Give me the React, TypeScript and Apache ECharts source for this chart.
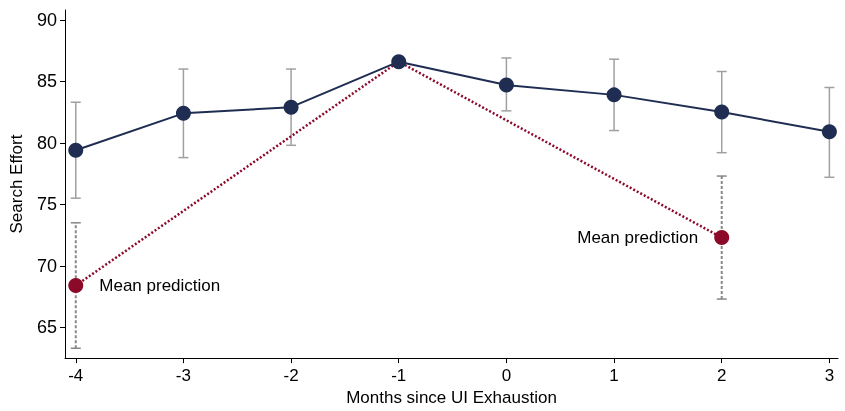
import { useEffect, useRef } from 'react';
import * as echarts from 'echarts';

const months = [-4, -3, -2, -1, 0, 1, 2, 3];
const effort = [79.4, 82.4, 82.9, 86.6, 84.7, 83.9, 82.5, 80.9];
const effortLow = [75.5, 78.8, 79.8, 86.6, 82.6, 81.0, 79.2, 77.2];
const effortHigh = [83.3, 86.0, 86.0, 86.6, 86.9, 86.8, 85.8, 84.5];
const predMonths = [-4, -1, 2];
const predValues = [68.4, 86.6, 72.3];
const predBarMonths = [-4, 2];
const predLow = [63.3, 67.3];
const predHigh = [73.5, 77.3];
const yTicks = [65, 70, 75, 80, 85, 90];

const font = '"Liberation Sans", Arial, sans-serif';

function errorBars(dashed: boolean, color: string) {
  return (params: any, api: any) => {
    const x = api.value(0);
    const lo = api.coord([x, api.value(1)]);
    const hi = api.coord([x, api.value(2)]);
    const w = 5;
    const style = { stroke: color, lineWidth: dashed ? 2 : 1.5, lineDash: dashed ? [3, 2] : null };
    return {
      type: 'group',
      children: [
        { type: 'line', shape: { x1: lo[0], y1: lo[1], x2: hi[0], y2: hi[1] }, style },
        { type: 'line', shape: { x1: lo[0] - w, y1: lo[1], x2: lo[0] + w, y2: lo[1] }, style: { stroke: color, lineWidth: 1.5 } },
        { type: 'line', shape: { x1: hi[0] - w, y1: hi[1], x2: hi[0] + w, y2: hi[1] }, style: { stroke: color, lineWidth: 1.5 } },
      ],
    };
  };
}

export default function App() {
  const ref = useRef<HTMLDivElement>(null);
  useEffect(() => {
    if (!ref.current) return;
    const chart = echarts.init(ref.current, null, { renderer: 'svg' });
    chart.setOption({
      animation: false,
      textStyle: { fontFamily: font },
      grid: { left: 62, right: 7, top: 10, bottom: 44 },
      xAxis: {
        type: 'value', min: -4.1, max: 3.08,
        name: 'Months since UI Exhaustion', nameLocation: 'middle', nameGap: 30,
        nameTextStyle: { fontSize: 17, color: '#000', fontFamily: font },
        axisLine: { onZero: false, lineStyle: { color: '#000' } },
        axisTick: { customValues: months, length: 5, lineStyle: { color: '#000' } },
        axisLabel: { customValues: months, fontSize: 17, color: '#000', margin: 9, fontFamily: font },
        splitLine: { show: false },
      },
      yAxis: {
        type: 'value', min: 62.5, max: 90.8,
        name: 'Search Effort', nameLocation: 'middle', nameGap: 40,
        nameTextStyle: { fontSize: 17, color: '#000', fontFamily: font },
        axisLine: { show: true, onZero: false, lineStyle: { color: '#000' } },
        axisTick: { show: true, customValues: yTicks, length: 5, lineStyle: { color: '#000' } },
        axisLabel: { customValues: yTicks, fontSize: 18, color: '#000', margin: 8, fontFamily: font },
        splitLine: { show: false },
      },
      series: [
        {
          type: 'custom',
          renderItem: errorBars(false, '#a0a0a0'),
          data: months.map((m, i) => [m, effortLow[i], effortHigh[i]]),
          z: 1,
        },
        {
          type: 'custom',
          renderItem: errorBars(true, '#888888'),
          data: predBarMonths.map((m, i) => [m, predLow[i], predHigh[i]]),
          z: 1,
        },
        {
          type: 'line',
          data: predMonths.map((m, i) => [m, predValues[i]]),
          lineStyle: { color: '#8b0a2a', width: 2.5, type: [2, 2] },
          symbol: 'none',
          z: 2,
        },
        {
          type: 'line',
          data: months.map((m, i) => [m, effort[i]]),
          lineStyle: { color: '#1f2d52', width: 2 },
          itemStyle: { color: '#1f2d52' },
          symbol: 'circle', symbolSize: 15,
          z: 3,
        },
        {
          type: 'scatter',
          symbolSize: 15,
          itemStyle: { color: '#8b0a2a', opacity: 1 },
          label: { show: true, formatter: 'Mean prediction', fontSize: 17, color: '#000', fontFamily: font, distance: 16 },
          data: [
            { value: [predMonths[0], predValues[0]], label: { position: 'right' } },
            { value: [predMonths[2], predValues[2]], label: { position: 'left' } },
          ],
          z: 4,
        },
      ],
    });
    return () => chart.dispose();
  }, []);
  return <div ref={ref} style={{ position: 'fixed', left: 0, top: 0, width: 845, height: 411 }} />;
}
